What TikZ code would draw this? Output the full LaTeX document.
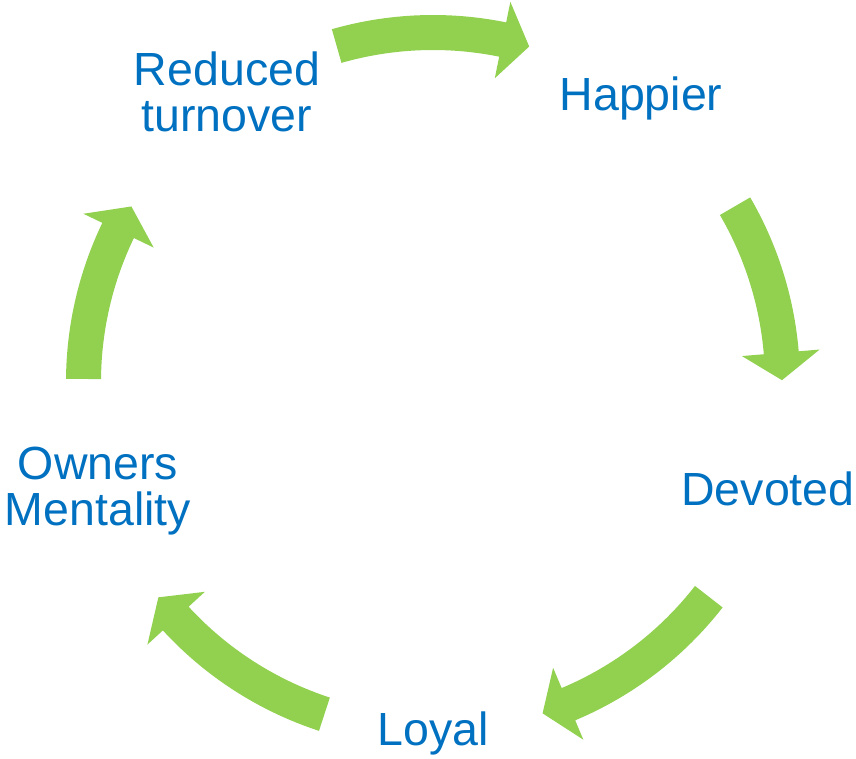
\documentclass[tikz,border=0pt]{standalone}
\usepackage{fontspec}
\setmainfont{Liberation Sans}
\definecolor{txtblue}{HTML}{0070C0}
\definecolor{arrgreen}{HTML}{92D050}
\newcommand\cyclearrow[2]{%
  \pgfmathsetmacro\hb{#2+4.5}%
  \fill[arrgreen] (#1:367pt) arc[start angle=#1, end angle=\hb, radius=367pt]
    -- (\hb:388pt) -- (#2:349pt) -- (\hb:310pt) -- (\hb:332pt)
    arc[start angle=\hb, end angle=#1, radius=332pt] -- cycle;}
\begin{document}
\begin{tikzpicture}[x=1pt,y=1pt,
  lbl/.style={text=txtblue, font=\fontsize{46.5}{46}\selectfont, align=center, inner sep=0pt, anchor=base}]
\useasboundingbox (0,0) rectangle (856,-758);
\begin{scope}[shift={(433,-382)}]
  \cyclearrow{106}{74}
  \cyclearrow{30.2}{0.3}
  \cyclearrow{-37.9}{-71.7}
  \cyclearrow{-108.1}{-141.9}
  \cyclearrow{179.5}{149.8}
\end{scope}
\node[lbl] (reduced) at (227,-131.7) {Reduced\\turnover};
\node[lbl] (happier) at (641,-110.7) {Happier};
\node[lbl] (devoted) at (768,-505) {Devoted};
\node[lbl] (owners) at (98,-525) {Owners\\Mentality};
\node[lbl] (loyal) at (433,-745.7) {Loyal};
\end{tikzpicture}
\end{document}
